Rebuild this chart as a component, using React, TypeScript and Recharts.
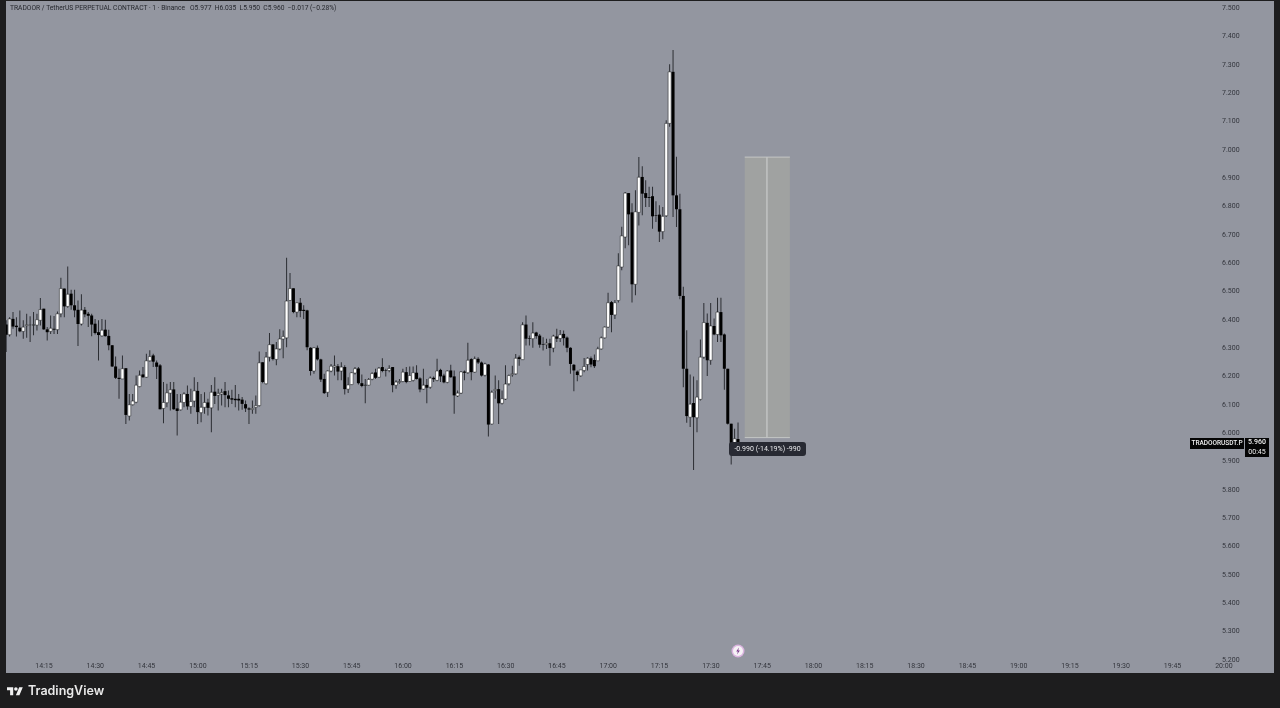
import {
  ComposedChart,
  Bar,
  Cell,
  XAxis,
  YAxis,
  ReferenceArea,
  ReferenceLine,
} from "recharts";

const FIRST_MINUTE = 844; // 14:04, one candle per minute from there

const opens = [
  6.381, 6.345, 6.401, 6.377, 6.37, 6.357, 6.377, 6.38, 6.379, 6.379,
  6.396, 6.437, 6.364, 6.357, 6.366, 6.363, 6.419, 6.508, 6.445, 6.49,
  6.449, 6.433, 6.383, 6.433, 6.419, 6.413, 6.384, 6.354, 6.341, 6.363,
  6.341, 6.308, 6.233, 6.193, 6.189, 6.227, 6.058, 6.098, 6.107, 6.162,
  6.205, 6.195, 6.253, 6.272, 6.247, 6.237, 6.085, 6.105, 6.139, 6.152,
  6.085, 6.08, 6.106, 6.136, 6.092, 6.111, 6.147, 6.07, 6.089, 6.106,
  6.087, 6.144, 6.132, 6.136, 6.146, 6.131, 6.121, 6.119, 6.119, 6.116,
  6.1, 6.085, 6.081, 6.089, 6.095, 6.248, 6.172, 6.266, 6.311, 6.258,
  6.295, 6.33, 6.334, 6.466, 6.509, 6.425, 6.458, 6.433, 6.431, 6.299,
  6.217, 6.299, 6.258, 6.189, 6.142, 6.217, 6.231, 6.234, 6.217, 6.231,
  6.153, 6.169, 6.21, 6.226, 6.174, 6.166, 6.167, 6.188, 6.212, 6.195,
  6.231, 6.219, 6.219, 6.231, 6.167, 6.177, 6.18, 6.213, 6.18, 6.184,
  6.211, 6.191, 6.153, 6.168, 6.16, 6.193, 6.184, 6.221, 6.201, 6.177,
  6.219, 6.198, 6.129, 6.139, 6.215, 6.211, 6.259, 6.213, 6.26, 6.247,
  6.202, 6.24, 6.03, 6.148, 6.153, 6.103, 6.118, 6.172, 6.204, 6.207,
  6.266, 6.257, 6.381, 6.333, 6.331, 6.353, 6.342, 6.312, 6.31, 6.315,
  6.298, 6.339, 6.332, 6.348, 6.335, 6.299, 6.239, 6.215, 6.2, 6.219,
  6.24, 6.262, 6.256, 6.253, 6.295, 6.334, 6.372, 6.46, 6.415, 6.466,
  6.584, 6.69, 6.845, 6.777, 6.523, 6.777, 6.902, 6.845, 6.831, 6.834,
  6.767, 6.769, 6.709, 6.765, 7.091, 7.273, 6.837, 6.788, 6.482, 6.225,
  6.054, 6.104, 6.052, 6.117, 6.266, 6.387, 6.255, 6.376, 6.346, 6.425,
  6.346, 6.225, 6.031, 5.946, 5.977,
];

const highs = [
  6.396, 6.407, 6.425, 6.407, 6.431, 6.396, 6.419, 6.41, 6.425, 6.419,
  6.475, 6.437, 6.372, 6.413, 6.411, 6.427, 6.546, 6.508, 6.586, 6.504,
  6.504, 6.466, 6.488, 6.443, 6.425, 6.419, 6.401, 6.396, 6.401, 6.398,
  6.363, 6.308, 6.268, 6.225, 6.272, 6.227, 6.136, 6.136, 6.201, 6.219,
  6.231, 6.278, 6.29, 6.278, 6.254, 6.242, 6.178, 6.172, 6.178, 6.178,
  6.136, 6.136, 6.142, 6.166, 6.154, 6.195, 6.178, 6.136, 6.142, 6.119,
  6.168, 6.195, 6.154, 6.154, 6.178, 6.148, 6.151, 6.168, 6.136, 6.125,
  6.113, 6.089, 6.113, 6.131, 6.286, 6.248, 6.284, 6.351, 6.311, 6.319,
  6.364, 6.36, 6.617, 6.563, 6.509, 6.458, 6.475, 6.449, 6.433, 6.301,
  6.301, 6.307, 6.26, 6.207, 6.219, 6.242, 6.272, 6.242, 6.248, 6.237,
  6.195, 6.213, 6.231, 6.231, 6.205, 6.189, 6.192, 6.213, 6.225, 6.231,
  6.262, 6.225, 6.237, 6.231, 6.184, 6.189, 6.225, 6.231, 6.233, 6.233,
  6.237, 6.195, 6.225, 6.189, 6.198, 6.198, 6.26, 6.225, 6.207, 6.219,
  6.239, 6.219, 6.148, 6.217, 6.219, 6.317, 6.262, 6.268, 6.266, 6.251,
  6.246, 6.242, 6.148, 6.201, 6.184, 6.148, 6.237, 6.205, 6.236, 6.277,
  6.272, 6.389, 6.413, 6.342, 6.389, 6.356, 6.348, 6.336, 6.331, 6.331,
  6.345, 6.366, 6.362, 6.36, 6.339, 6.301, 6.242, 6.219, 6.221, 6.263,
  6.266, 6.268, 6.275, 6.303, 6.339, 6.374, 6.493, 6.464, 6.468, 6.633,
  6.726, 6.849, 6.845, 6.809, 6.855, 6.972, 6.94, 6.89, 6.867, 6.867,
  6.816, 6.802, 6.796, 7.102, 7.3, 7.35, 6.973, 6.843, 6.514, 6.361,
  6.205, 6.198, 6.184, 6.328, 6.457, 6.42, 6.457, 6.402, 6.476, 6.476,
  6.349, 6.225, 6.031, 6.013, 6.035,
];

const lows = [
  6.284, 6.339, 6.366, 6.339, 6.354, 6.331, 6.334, 6.319, 6.343, 6.36,
  6.378, 6.363, 6.325, 6.348, 6.348, 6.348, 6.407, 6.407, 6.44, 6.433,
  6.407, 6.305, 6.378, 6.407, 6.372, 6.34, 6.346, 6.254, 6.339, 6.339,
  6.29, 6.231, 6.189, 6.119, 6.189, 6.03, 6.042, 6.095, 6.103, 6.16,
  6.193, 6.193, 6.251, 6.231, 6.189, 6.082, 6.033, 6.089, 6.078, 6.08,
  5.989, 6.078, 6.089, 6.08, 6.066, 6.089, 6.03, 6.036, 6.066, 6.06,
  6.001, 6.101, 6.078, 6.095, 6.089, 6.089, 6.101, 6.089, 6.078, 6.08,
  6.072, 6.03, 6.066, 6.066, 6.092, 6.174, 6.169, 6.251, 6.254, 6.237,
  6.29, 6.262, 6.301, 6.464, 6.421, 6.407, 6.407, 6.401, 6.29, 6.201,
  6.207, 6.254, 6.178, 6.136, 6.125, 6.213, 6.201, 6.184, 6.184, 6.134,
  6.139, 6.168, 6.205, 6.169, 6.16, 6.103, 6.166, 6.184, 6.189, 6.193,
  6.213, 6.198, 6.213, 6.142, 6.154, 6.172, 6.177, 6.174, 6.178, 6.18,
  6.187, 6.142, 6.151, 6.103, 6.154, 6.178, 6.181, 6.178, 6.174, 6.174,
  6.193, 6.066, 6.125, 6.136, 6.184, 6.207, 6.184, 6.211, 6.242, 6.198,
  6.198, 5.986, 6.028, 6.119, 6.03, 6.099, 6.115, 6.166, 6.197, 6.204,
  6.236, 6.256, 6.307, 6.307, 6.299, 6.331, 6.299, 6.289, 6.295, 6.236,
  6.283, 6.319, 6.319, 6.307, 6.283, 6.207, 6.146, 6.181, 6.197, 6.213,
  6.219, 6.23, 6.228, 6.252, 6.293, 6.332, 6.369, 6.354, 6.401, 6.459,
  6.573, 6.65, 6.661, 6.459, 6.484, 6.731, 6.767, 6.796, 6.796, 6.719,
  6.743, 6.672, 6.682, 6.761, 7.079, 6.761, 6.725, 6.47, 6.16, 6.034,
  6.019, 5.868, 6.001, 6.113, 6.26, 6.199, 6.239, 6.343, 6.319, 6.319,
  6.151, 6.028, 5.887, 5.942, 5.95,
];

const closes = [
  6.345, 6.401, 6.374, 6.372, 6.357, 6.372, 6.38, 6.379, 6.38, 6.398,
  6.434, 6.364, 6.354, 6.368, 6.363, 6.419, 6.508, 6.445, 6.488, 6.449,
  6.431, 6.383, 6.432, 6.417, 6.412, 6.381, 6.351, 6.344, 6.361, 6.34,
  6.308, 6.233, 6.193, 6.189, 6.225, 6.062, 6.098, 6.111, 6.167, 6.202,
  6.195, 6.253, 6.268, 6.25, 6.232, 6.082, 6.106, 6.14, 6.151, 6.082,
  6.076, 6.107, 6.136, 6.092, 6.109, 6.147, 6.072, 6.089, 6.106, 6.087,
  6.142, 6.129, 6.138, 6.141, 6.132, 6.119, 6.116, 6.114, 6.113, 6.101,
  6.085, 6.081, 6.085, 6.095, 6.246, 6.178, 6.266, 6.31, 6.259, 6.295,
  6.33, 6.339, 6.464, 6.508, 6.425, 6.458, 6.429, 6.429, 6.301, 6.217,
  6.299, 6.258, 6.187, 6.139, 6.217, 6.234, 6.235, 6.215, 6.231, 6.153,
  6.168, 6.211, 6.225, 6.174, 6.164, 6.167, 6.187, 6.208, 6.193, 6.227,
  6.217, 6.217, 6.226, 6.167, 6.178, 6.18, 6.213, 6.178, 6.201, 6.211,
  6.189, 6.152, 6.167, 6.158, 6.192, 6.188, 6.217, 6.198, 6.177, 6.217,
  6.195, 6.131, 6.139, 6.214, 6.211, 6.255, 6.213, 6.26, 6.247, 6.201,
  6.242, 6.028, 6.142, 6.152, 6.103, 6.119, 6.171, 6.201, 6.207, 6.262,
  6.259, 6.38, 6.331, 6.331, 6.351, 6.34, 6.31, 6.31, 6.315, 6.298,
  6.34, 6.331, 6.345, 6.333, 6.299, 6.242, 6.219, 6.203, 6.221, 6.233,
  6.262, 6.24, 6.234, 6.295, 6.334, 6.372, 6.458, 6.415, 6.458, 6.588,
  6.694, 6.845, 6.77, 6.523, 6.779, 6.901, 6.843, 6.828, 6.828, 6.763,
  6.765, 6.709, 6.763, 7.091, 7.273, 6.837, 6.788, 6.482, 6.225, 6.058,
  6.1, 6.054, 6.125, 6.266, 6.388, 6.255, 6.376, 6.346, 6.425, 6.343,
  6.225, 6.031, 5.948, 5.978, 5.96,
];

const priceTicks = [
  7.5, 7.4, 7.3, 7.2, 7.1, 7.0, 6.9, 6.8, 6.7, 6.6, 6.5, 6.4, 6.3, 6.2, 6.1,
  6.0, 5.9, 5.8, 5.7, 5.6, 5.5, 5.4, 5.3, 5.2,
];

const timeTicks = [
  855, 870, 885, 900, 915, 930, 945, 960, 975, 990, 1005, 1020, 1035, 1050,
  1065, 1080, 1095, 1110, 1125, 1140, 1155, 1170, 1185, 1200,
];

const rows = opens.map((open, i) => ({
  minute: FIRST_MINUTE + i,
  wick: [lows[i], highs[i]],
  body: [Math.min(open, closes[i]), Math.max(open, closes[i])],
  up: closes[i] >= open,
}));

const CHROME = "#1d1d1e";
const PANE = "#9396a0";
const AXIS_TEXT = "#33353c";
const FONT = "Roboto, 'Noto Sans', sans-serif";

const clock = (m: number) =>
  `${String(Math.floor(m / 60)).padStart(2, "0")}:${String(m % 60).padStart(2, "0")}`;

function Tag({ left, top, width, height, children, style }: any) {
  return (
    <div
      style={{
        position: "absolute",
        left,
        top,
        width,
        height,
        lineHeight: `${height}px`,
        textAlign: "center",
        whiteSpace: "nowrap",
        ...style,
      }}
    >
      {children}
    </div>
  );
}

export default function App() {
  return (
    <div
      style={{
        position: "fixed",
        left: 0,
        top: 0,
        width: 1280,
        height: 708,
        background: CHROME,
        overflow: "hidden",
        fontFamily: FONT,
        filter: "blur(0.35px)",
      }}
    >
      <div
        style={{
          position: "absolute",
          left: 6,
          top: 1,
          width: 1268,
          height: 672,
          background: PANE,
        }}
      >
        <ComposedChart
          width={1268}
          height={672}
          data={rows}
          margin={{ top: 0, right: 0, bottom: 0, left: 0 }}
        >
          <XAxis
            xAxisId="time"
            dataKey="minute"
            type="number"
            scale="linear"
            domain={[843.89, 1197.7]}
            ticks={timeTicks}
            interval={0}
            allowDataOverflow
            height={13}
            tickLine={false}
            axisLine={false}
            tickSize={0}
            tickMargin={3}
            tickFormatter={clock}
            tick={{ fontSize: 7, fill: AXIS_TEXT, fontFamily: FONT }}
          />
          <XAxis
            xAxisId="bodies"
            dataKey="minute"
            type="number"
            scale="linear"
            orientation="top"
            height={0}
            domain={[843.89, 1197.7]}
            allowDataOverflow
            hide
          />
          <YAxis
            yAxisId="price"
            orientation="right"
            width={58}
            type="number"
            domain={[5.197, 7.523]}
            ticks={priceTicks}
            interval={0}
            allowDataOverflow
            tickLine={false}
            axisLine={false}
            tickSize={0}
            tickMargin={6}
            tickFormatter={(v: number) => v.toFixed(3)}
            tick={{ fontSize: 7, fill: AXIS_TEXT, fontFamily: FONT }}
          />
          <ReferenceArea
            xAxisId="time"
            yAxisId="price"
            x1={1059.9}
            x2={1073.1}
            y1={5.982}
            y2={6.972}
            fill="#a0a2a1"
            fillOpacity={1}
            stroke="none"
          />
          <ReferenceLine
            xAxisId="time"
            yAxisId="price"
            segment={[
              { x: 1066.4, y: 5.982 },
              { x: 1066.4, y: 6.972 },
            ]}
            stroke="#d2d4d3"
            strokeWidth={1}
          />
          <ReferenceLine
            xAxisId="time"
            yAxisId="price"
            segment={[
              { x: 1059.9, y: 6.972 },
              { x: 1073.1, y: 6.972 },
            ]}
            stroke="#c4c6c5"
            strokeWidth={1}
          />
          <ReferenceLine
            xAxisId="time"
            yAxisId="price"
            segment={[
              { x: 1059.9, y: 5.982 },
              { x: 1073.1, y: 5.982 },
            ]}
            stroke="#c4c6c5"
            strokeWidth={1}
          />
          <Bar
            xAxisId="time"
            yAxisId="price"
            dataKey="wick"
            barSize={1}
            fill="#2c2e33"
            isAnimationActive={false}
          />
          <Bar
            xAxisId="bodies"
            yAxisId="price"
            dataKey="body"
            barSize={3}
            isAnimationActive={false}
          >
            {rows.map((r) => (
              <Cell
                key={r.minute}
                fill={r.up ? "#ffffff" : "#000000"}
                stroke={r.up ? "#17181b" : "none"}
                strokeWidth={0.5}
              />
            ))}
          </Bar>
        </ComposedChart>
      </div>

      <div
        style={{
          position: "absolute",
          left: 10,
          top: 3,
          fontSize: 6.7,
          lineHeight: "10px",
          color: "#26282e",
          whiteSpace: "pre",
        }}
      >
        {"TRADOOR / TetherUS PERPETUAL CONTRACT · 1 · Binance   O5.977  H6.035  L5.950  C5.960  −0.017 (−0.28%)"}
      </div>

      <Tag
        left={729}
        top={442}
        width={77}
        height={14}
        style={{
          background: "#282a33",
          borderRadius: 3,
          color: "#e8e9ec",
          fontSize: 7,
        }}
      >
        -0.990 (-14.19%) -990
      </Tag>

      <Tag
        left={1190}
        top={438}
        width={54}
        height={11}
        style={{ background: "#050505", color: "#f2f2f2", fontSize: 6.5, fontWeight: 500 }}
      >
        TRADOORUSDT.P
      </Tag>
      <div
        style={{
          position: "absolute",
          left: 1245,
          top: 438,
          width: 24,
          height: 19,
          background: "#050505",
          color: "#f2f2f2",
          fontSize: 7,
          textAlign: "center",
          lineHeight: "9.5px",
        }}
      >
        <div style={{ fontWeight: 500 }}>5.960</div>
        <div>00:45</div>
      </div>

      <svg
        style={{ position: "absolute", left: 729, top: 642 }}
        width={18}
        height={18}
        viewBox="0 0 18 18"
      >
        <circle cx={9} cy={9} r={6.5} fill="#e6b8ea" opacity={0.85} />
        <circle cx={9} cy={9} r={5} fill="#f6f2f6" />
        <path d="M10 5.6 L7.2 9.4 H8.9 L8 12.4 L10.9 8.4 H9.2 Z" fill="#7b3a8c" />
      </svg>

      <svg
        style={{ position: "absolute", left: 7, top: 687 }}
        width={16}
        height={8.5}
        viewBox="0 4 36 18"
      >
        <path
          d="M14 22H7V11H0V4h14v18zM28 22h-8l7.5-18h8L28 22z"
          fill="#f1f1f1"
        />
        <circle cx={20} cy={8} r={4} fill="#f1f1f1" />
      </svg>
      <div
        style={{
          position: "absolute",
          left: 28,
          top: 683,
          fontFamily: "Inter, Roboto, sans-serif",
          fontSize: 12.5,
          fontWeight: 600,
          lineHeight: "16px",
          color: "#e9e9e9",
        }}
      >
        TradingView
      </div>
    </div>
  );
}
